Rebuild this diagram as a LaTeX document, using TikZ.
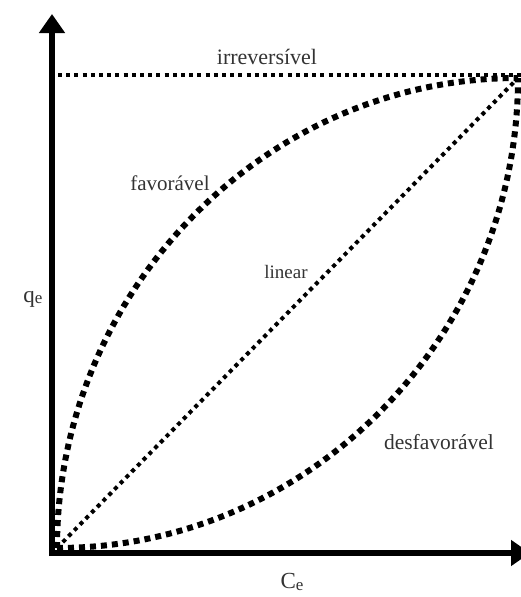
\documentclass[tikz,border=0pt]{standalone}
\usepackage{fontspec}
\setmainfont{Liberation Serif}
\usetikzlibrary{arrows.meta}
\begin{document}
\begin{tikzpicture}[x=1pt,y=-1pt,
  axis/.style={line width=5.5pt,-{Triangle[length=19pt,width=25pt]}},
  thickdots/.style={line width=6pt,dash pattern=on 6pt off 5pt},
  thindots/.style={line width=4pt,dash pattern=on 4pt off 4.2pt},
  lbl/.style={inner sep=0pt,text=black!80},
]
\useasboundingbox (0,0) rectangle (521,597);
% axes
\coordinate (ybot) at (52,556);
\coordinate (ytop) at (52,14);
\coordinate (xleft) at (49,553);
\coordinate (xright) at (530,553);
\draw[axis] (ybot) -- (ytop);
\draw[axis] (xleft) -- (xright);
% isotherm end points
\coordinate (O) at (57,548);
\coordinate (C) at (518,78);
\coordinate (irrL) at (58,75);
\coordinate (irrR) at (521,75);
% irreversible
\draw[thindots] (irrL) -- (irrR);
% linear
\draw[thindots] (O) -- (C);
% favourable
\draw[thickdots] (O) .. controls (57,293) and (263,78) .. (C);
% unfavourable
\draw[thickdots] (O) .. controls (312,548) and (518,333) .. (C);
% labels
\node[lbl,font=\fontsize{22}{22}\selectfont] (tirr) at (267,57) {irreversível};
\node[lbl,font=\fontsize{21}{21}\selectfont] (tfav) at (170,183) {favorável};
\node[lbl,font=\fontsize{19}{19}\selectfont] (tlin) at (286,272) {linear};
\node[lbl,font=\fontsize{21.5}{21.5}\selectfont] (tdes) at (439,442) {desfavorável};
\node[lbl,font=\fontsize{23}{23}\selectfont] (tq) at (33,299) {q\raisebox{-1.5pt}{\fontsize{17}{17}\selectfont e}};
\node[lbl,font=\fontsize{23}{23}\selectfont] (tc) at (292,582) {C\raisebox{-1.5pt}{\fontsize{17}{17}\selectfont e}};
\end{tikzpicture}
\end{document}
